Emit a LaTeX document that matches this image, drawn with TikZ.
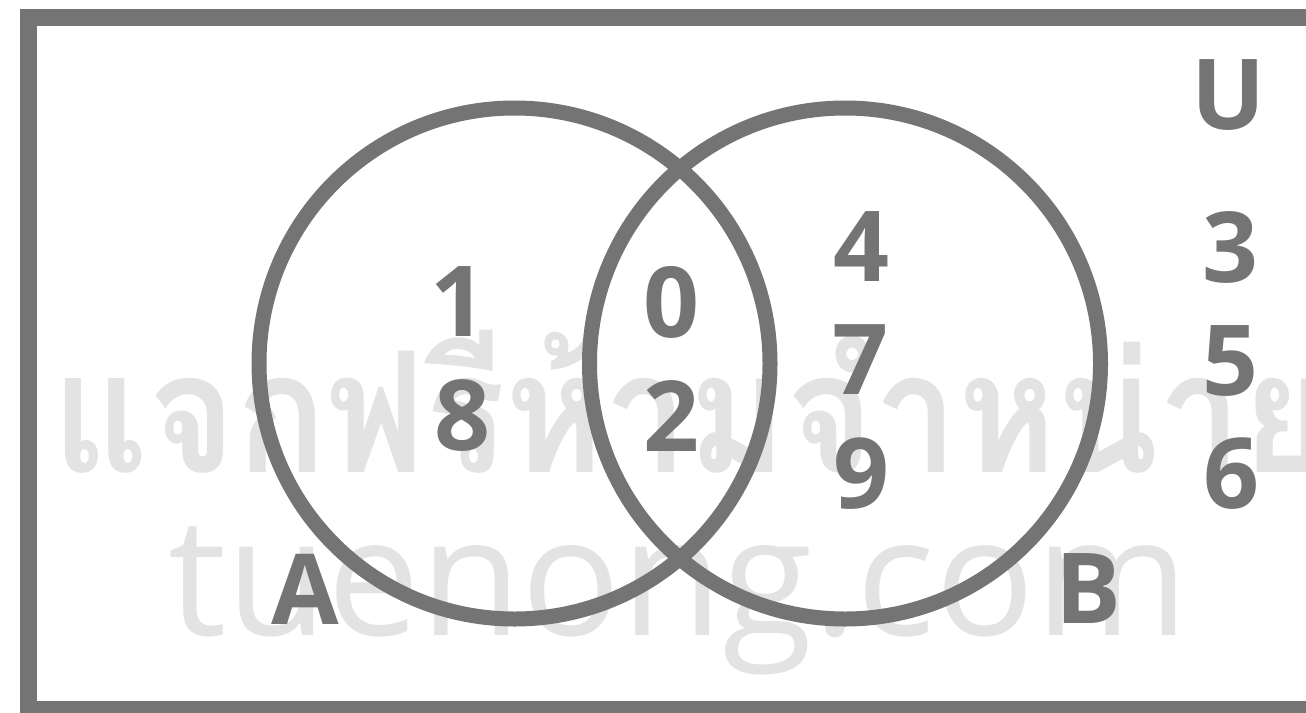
\documentclass[tikz,border=0pt]{standalone}
\usepackage{fontspec}
\setmainfont{Open Sans}
\newfontfamily\thaifont[Script=Thai]{Loma}
\definecolor{ink}{HTML}{747474}
\definecolor{wm}{HTML}{E3E3E3}
\begin{document}
\begin{tikzpicture}[x=1pt,y=-1pt,
  lbl/.style={text=ink, font=\fontsize{98}{98}\selectfont\bfseries, inner sep=0pt, anchor=center},
  setcircle/.style={circle, draw=ink, line width=15pt, minimum size=511pt, inner sep=0pt},
  watermark/.style={text=wm, inner sep=0pt}]
\clip (0,0) rectangle (1306,712);
% watermark
\node[watermark, anchor=base west, font=\fontsize{168}{168}\thaifont\bfseries] (wm1) at (52,472) {\scalebox{0.89}[1]{แจกฟรีห้ามจำหน่าย}};
\node[watermark, anchor=base west, font=\fontsize{165}{165}\selectfont] (wm2) at (168,635) {tuenong.com};
% universe
\draw[ink, line width=17pt] (28.5,17.5) rectangle (1330,709.5);
% sets
\node[setcircle] (A) at (514.5,363.5) {};
\node[setcircle] (B) at (845,363.5) {};
% labels
\node[lbl] (U) at (1229,95) {U};
\node[lbl] (la) at (305,589) {A};
\node[lbl] (lb) at (1088,589) {B};
\node[lbl] (n1) at (458,302) {1};
\node[lbl] (n8) at (462,416) {8};
\node[lbl] (n0) at (671,302) {0};
\node[lbl] (n2) at (671,416) {2};
\node[lbl] (n4) at (861,247) {4};
\node[lbl] (n7) at (860,360) {7};
\node[lbl] (n9) at (861,474) {9};
\node[lbl] (n3) at (1230,247) {3};
\node[lbl] (n5) at (1230,361) {5};
\node[lbl] (n6) at (1231,474) {6};
\end{tikzpicture}
\end{document}
